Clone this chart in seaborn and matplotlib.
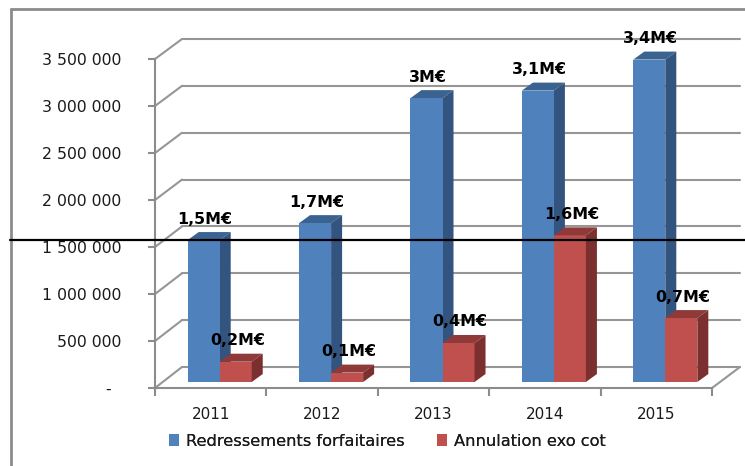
import pandas as pd
import matplotlib
matplotlib.use('Agg')
import matplotlib.pyplot as plt
import seaborn as sns
from matplotlib.lines import Line2D
from matplotlib.patches import Polygon

annees = ['2011', '2012', '2013', '2014', '2015']
redressements = [1510000, 1690000, 3020000, 3100000, 3430000]
annulation = [216000, 100000, 415000, 1560000, 680000]
labels_redr = ['1,5M€', '1,7M€', '3M€', '3,1M€', '3,4M€']
labels_annul = ['0,2M€', '0,1M€', '0,4M€', '1,6M€', '0,7M€']
y_ticks = [0, 500000, 1000000, 1500000, 2000000, 2500000, 3000000, 3500000]
y_labels = ['-  ', '500 000', '1 000 000', '1 500 000', '2 000 000', '2 500 000', '3 000 000', '3 500 000']
noms = ['Redressements forfaitaires', 'Annulation exo cot']

W, H = 745, 466
GRIS = '#8c8c8c'
GRILLE = '#969696'
BLEU, BLEU_HAUT, BLEU_COTE = '#4f81bd', '#3b6391', '#32547f'
ROUGE, ROUGE_HAUT, ROUGE_COTE = '#c0504d', '#8f3a38', '#7b2f2e'

sns.set_style('white')
plt.rcParams['font.family'] = ['DejaVu Sans']

fig = plt.figure(figsize=(W / 100, H / 100), dpi=100, facecolor='white')


def rect(x0, x1, y_bas, y_haut):
    # pixels image (origine en haut) vers fractions de figure
    return [x0 / W, 1 - y_bas / H, (x1 - x0) / W, (y_bas - y_haut) / H]


def trait(x0, y0, x1, y1, couleur=GRILLE, lw=1.5, z=1):
    fig.add_artist(Line2D([x0 / W, x1 / W], [1 - y0 / H, 1 - y1 / H], color=couleur,
                          lw=lw, zorder=z, transform=fig.transFigure))


# mur du fond : quadrillage
ax_fond = fig.add_axes(rect(182, 740, 367, 39), zorder=1)
ax_fond.set_xlim(0, 1)
ax_fond.set_ylim(0, 3500000)
ax_fond.set_yticks(y_ticks)
ax_fond.set_xticks([])
ax_fond.set_yticklabels([])
ax_fond.grid(axis='y', color=GRILLE, lw=1.5, clip_on=False)
ax_fond.tick_params(left=False)
sns.despine(ax=ax_fond, top=True, right=True, bottom=True, left=True)
ax_fond.patch.set_alpha(0)

# plan avant : axes et graduations
ax = fig.add_axes(rect(155, 712, 388, 59), zorder=2)
ax.patch.set_alpha(0)
ax.set_xlim(-0.5, len(annees) - 0.5)
ax.set_ylim(0, 3500000)
ax.set_yticks(y_ticks)
ax.set_yticklabels(y_labels, fontsize=11.3, color='#1a1a1a')
ax.set_xticks([i - 0.5 for i in range(len(annees) + 1)])
ax.set_xticklabels([])
ax.set_xticks(range(len(annees)), annees, minor=True, fontsize=11, color='#1a1a1a')
ax.tick_params(axis='x', which='major', bottom=True, length=6, width=1.5, color=GRIS)
ax.tick_params(axis='x', which='minor', bottom=False, pad=12)
ax.tick_params(axis='y', left=True, length=5, width=1.5, color=GRIS, pad=19)
sns.despine(ax=ax, top=True, right=True)
for cote in ['left', 'bottom']:
    ax.spines[cote].set_color(GRIS)
    ax.spines[cote].set_linewidth(1.5)

# parois obliques entre le plan avant et le fond
for v in y_ticks:
    y_av = 388 - v * 329 / 3500000
    y_ar = 367 - v * 328 / 3500000
    trait(155, y_av, 182, y_ar)
trait(712, 388, 740, 367)

# barres, décalées dans la profondeur
df = pd.DataFrame({
    'annee': annees * 2,
    'valeur': redressements + annulation,
    'serie': [noms[0]] * 5 + [noms[1]] * 5,
})
ax_barres = fig.add_axes(rect(164, 721, 382, 53), zorder=3)
sns.barplot(data=df, x='annee', y='valeur', hue='serie', palette=[BLEU, ROUGE],
            width=0.575, gap=0, saturation=1, linewidth=0, ax=ax_barres)
ax_barres.set_xlim(-0.5, len(annees) - 0.5)
ax_barres.set_ylim(0, 3500000)
ax_barres.patch.set_alpha(0)

dx = 11 / 557 * len(annees)
dy = 8 / 329 * 3500000
faces = [(ax_barres.containers[0], BLEU_HAUT, BLEU_COTE, labels_redr),
         (ax_barres.containers[1], ROUGE_HAUT, ROUGE_COTE, labels_annul)]
for i, (barres, c_haut, c_cote, textes) in enumerate(faces):
    for barre, texte in zip(barres, textes):
        x0 = barre.get_x()
        x1 = x0 + barre.get_width()
        h = barre.get_height()
        ax_barres.add_patch(Polygon([(x0, h), (x1, h), (x1 + dx, h + dy), (x0 + dx, h + dy)],
                                    closed=True, fc=c_haut, ec='none', clip_on=False, zorder=barre.get_zorder() - 0.1 * (1 - i)))
        ax_barres.add_patch(Polygon([(x1, 0), (x1 + dx, dy), (x1 + dx, h + dy), (x1, h)],
                                    closed=True, fc=c_cote, ec='none', clip_on=False, zorder=barre.get_zorder() - 0.1 * (1 - i)))
        ax_barres.annotate(texte, ((x0 + x1) / 2, h), xytext=(1.5, 21), textcoords='offset pixels',
                           ha='center', va='center', fontsize=11.4, fontweight='bold', color='black',
                           annotation_clip=False, zorder=6)

leg = ax_barres.legend(loc='center left', bbox_to_anchor=(154 / W, 1 - 441 / H),
                       bbox_transform=fig.transFigure, ncols=2, frameon=False, title=None,
                       fontsize=11.7, handlelength=0.62, handleheight=0.7, handletextpad=0.43,
                       columnspacing=2.03, labelcolor='#1a1a1a')
ax_barres.axis('off')
ax_barres.add_artist(leg)

# cadre et trait noir de la capture
trait(11, 9, 745, 9, couleur=GRIS, lw=2, z=5)
trait(11, 9, 11, 466, couleur=GRIS, lw=2, z=5)
trait(10, 240, 745, 240, couleur='black', lw=1.6, z=10)

fig.savefig('out.png', dpi=100, facecolor='white')
